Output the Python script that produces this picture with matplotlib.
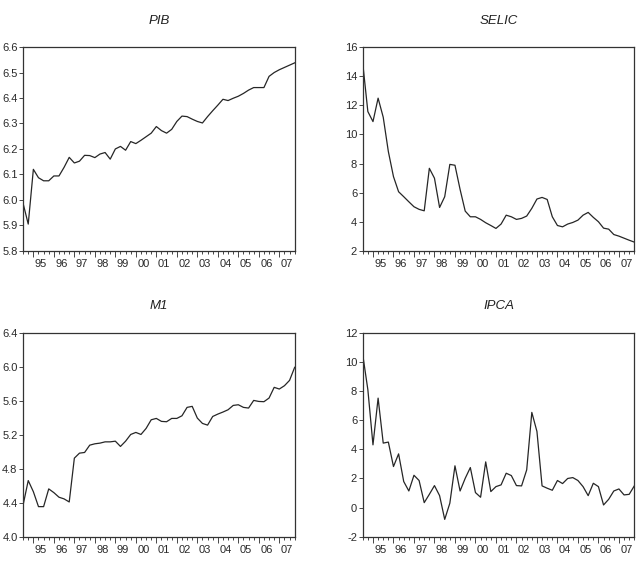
import matplotlib
matplotlib.use("Agg")
import matplotlib.pyplot as plt
import numpy as np
from matplotlib.ticker import FormatStrFormatter, MultipleLocator

plt.rcParams["font.family"] = ["Liberation Sans", "DejaVu Sans"]
plt.rcParams["axes.unicode_minus"] = False

# quarterly, 1994Q3 .. 2007Q4
start_year = 1994.5
n_obs = 54

pib = [5.986, 5.905, 6.12, 6.087, 6.075, 6.075, 6.094, 6.094, 6.128, 6.167,
       6.145, 6.152, 6.175, 6.174, 6.166, 6.18, 6.186, 6.16, 6.2, 6.21,
       6.195, 6.229, 6.221, 6.234, 6.248, 6.262, 6.288, 6.272, 6.262, 6.277,
       6.308, 6.329, 6.327, 6.317, 6.308, 6.302, 6.327, 6.35, 6.372, 6.395,
       6.39, 6.399, 6.407, 6.418, 6.431, 6.441, 6.441, 6.441, 6.485, 6.5,
       6.511, 6.52, 6.529, 6.538]

selic = [14.9, 11.57, 10.88, 12.49, 11.18, 8.82, 7.1, 6.06, 5.72, 5.37,
         5.03, 4.85, 4.75, 7.67, 6.99, 4.98, 5.72, 7.94, 7.88, 6.22,
         4.73, 4.34, 4.34, 4.16, 3.93, 3.74, 3.54, 3.84, 4.45, 4.34,
         4.16, 4.23, 4.39, 4.92, 5.56, 5.67, 5.53, 4.34, 3.74, 3.65,
         3.84, 3.95, 4.11, 4.45, 4.64, 4.30, 4.0, 3.56, 3.49, 3.12,
         3.01, 2.87, 2.73, 2.6]

m1 = [4.374, 4.661, 4.53, 4.354, 4.354, 4.563, 4.519, 4.465, 4.445, 4.409,
      4.925, 4.984, 4.992, 5.078, 5.094, 5.102, 5.117, 5.117, 5.125, 5.063,
      5.125, 5.204, 5.228, 5.204, 5.275, 5.377, 5.393, 5.358, 5.354, 5.393,
      5.393, 5.424, 5.523, 5.535, 5.397, 5.334, 5.314, 5.416, 5.444, 5.468,
      5.495, 5.546, 5.554, 5.523, 5.515, 5.605, 5.593, 5.590, 5.633, 5.759,
      5.739, 5.778, 5.841, 5.995]

ipca = [10.51, 8.1, 4.31, 7.52, 4.43, 4.5, 2.82, 3.69, 1.79, 1.14,
        2.22, 1.86, 0.34, 0.91, 1.51, 0.82, -0.81, 0.3, 2.87, 1.14,
        2.01, 2.75, 1.03, 0.71, 3.14, 1.1, 1.44, 1.56, 2.36, 2.2,
        1.51, 1.49, 2.59, 6.54, 5.23, 1.49, 1.33, 1.19, 1.86, 1.65,
        2.0, 2.06, 1.86, 1.44, 0.82, 1.67, 1.44, 0.18, 0.57, 1.14,
        1.28, 0.87, 0.91, 1.49]

year_labels = ["95", "96", "97", "98", "99", "00", "01", "02", "03", "04", "05", "06", "07"]
first_label_year = 1995

panels = [
    ("PIB", pib, (5.8, 6.6), 0.1, "%.1f"),
    ("SELIC", selic, (2, 16), 2, "%d"),
    ("M1", m1, (4.0, 6.4), 0.4, "%.1f"),
    ("IPCA", ipca, (-2, 12), 2, "%d"),
]

positions = [
    [0.036, 0.563, 0.423, 0.355],
    [0.565, 0.563, 0.423, 0.355],
    [0.036, 0.065, 0.423, 0.355],
    [0.565, 0.065, 0.423, 0.355],
]

dates = start_year + 0.25 * np.arange(n_obs)
years = first_label_year + np.arange(len(year_labels))

fig = plt.figure(figsize=(6.42, 5.74), dpi=100)

for (name, values, ylim, step, fmt), pos in zip(panels, positions):
    ax = fig.add_axes(pos)
    ax.plot(dates, values, color="#262626", lw=0.9)
    ax.set_xlim(dates[0], dates[-1])
    ax.set_ylim(*ylim)

    ax.yaxis.set_major_locator(MultipleLocator(step))
    ax.yaxis.set_major_formatter(FormatStrFormatter(fmt))
    ax.tick_params(axis="y", direction="out", length=3, width=0.6,
                   labelsize=8, pad=1, colors="#2a2a2a")

    ax.set_xticks(years)
    ax.set_xticklabels([])
    ax.set_xticks(dates, minor=True)
    ax.tick_params(axis="x", which="major", direction="out", length=4, width=0.6,
                   colors="#2a2a2a")
    ax.tick_params(axis="x", which="minor", direction="out", length=2, width=0.6,
                   colors="#2a2a2a")
    for yr, lab in zip(years, year_labels):
        ax.text(yr + 0.375, -0.042, lab, transform=ax.get_xaxis_transform(),
                ha="center", va="top", fontsize=8, color="#2a2a2a")

    for spine in ax.spines.values():
        spine.set_linewidth(0.9)
        spine.set_color("#333333")

    ax.text(0.5, 1.13, name, transform=ax.transAxes, ha="center", va="center",
            fontsize=9.5, style="italic", color="#222222")

fig.savefig("out.png", dpi=100)
